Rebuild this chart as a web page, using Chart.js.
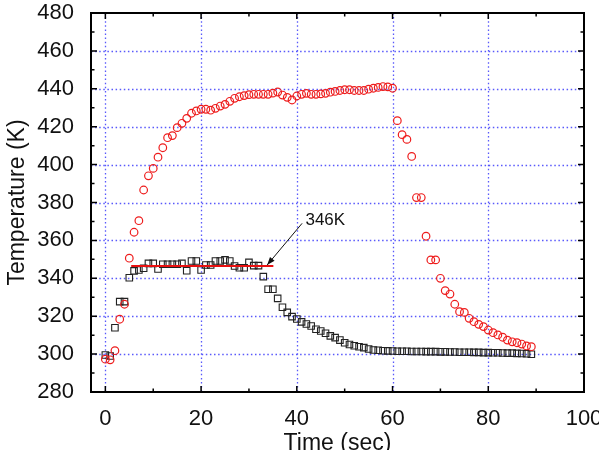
<!DOCTYPE html>
<html><head><meta charset="utf-8">
<script src="https://cdn.jsdelivr.net/npm/chart.js@4.4.0/dist/chart.umd.min.js"></script>
<style>html,body{margin:0;padding:0;background:#fff}#wrap{width:599px;height:450px;position:relative}</style>
</head><body><div id="wrap"><canvas id="c" width="599" height="450"></canvas></div>
<script>
// ---- data ----
const redTime = [0,1,2,3,4,5,6,7,8,9,10,11,12,13,14,15,16,17,18,19,20,21,22,23,24,25,26,27,28,29,30,31,32,33,34,35,36,37,38,39,40,41,42,43,44,45,46,47,48,49,50,51,52,53,54,55,56,57,58,59,60,61,62,63,64,65,66,67,68,69,70,71,72,73,74,75,76,77,78,79,80,81,82,83,84,85,86,87,88,89];
const redTemp = [297.3,297.0,301.8,318.4,326.3,350.6,364.3,370.4,386.6,394.1,
398.0,403.9,408.9,414.2,415.3,419.5,421.8,424.4,427.1,428.3,
429.2,429.2,428.7,429.7,430.9,431.8,433.4,435.0,435.8,436.4,
436.9,437.1,437.1,437.1,437.1,437.7,438.3,436.7,435.5,434.1,
436.2,437.1,437.6,437.1,437.1,437.3,437.6,438.2,438.6,439.1,
439.5,439.5,439.1,439.1,439.1,439.8,440.3,440.7,441.2,441.0,
440.3,423.2,415.8,413.3,404.3,382.6,382.6,362.2,349.7,349.7,
340.0,333.5,331.7,326.3,322.4,322.0,318.9,317.1,315.7,314.5,
312.7,311.3,310.1,308.9,307.4,306.5,306.0,305.3,304.3,303.9];
const blackTime = [0,1,2,3,4,5,6,7,8,9,10,11,12,13,14,15,16,17,18,19,20,21,22,23,24,25,26,27,28,29,30,31,32,33,34,35,36,37,38,39,40,41,42,43,44,45,46,47,48,49,50,51,52,53,54,55,56,57,58,59,60,61,62,63,64,65,66,67,68,69,70,71,72,73,74,75,76,77,78,79,80,81,82,83,84,85,86,87,88,89];
const blackTemp = [299.5,299.0,313.9,327.7,327.7,340.3,343.9,344.4,345.3,347.9,
347.9,344.9,347.4,347.4,347.4,347.4,347.9,344.0,349.1,349.1,
344.4,347.0,347.0,349.1,349.1,349.7,349.1,346.5,345.6,345.6,
348.4,346.7,346.7,340.9,334.2,334.2,329.4,324.7,322.0,319.8,
318.5,317.0,315.9,314.8,313.1,312.2,311.0,309.6,308.7,307.4,
306.0,305.1,304.4,303.9,303.4,302.7,302.2,302.0,301.8,301.7,
301.6,301.5,301.5,301.5,301.4,301.4,301.4,301.3,301.3,301.3,
301.2,301.2,301.1,301.1,301.0,301.0,301.0,300.9,300.9,300.8,
300.8,300.7,300.7,300.6,300.5,300.5,300.4,300.3,300.2,299.9];
const fitTime = [5.4, 35.1];
const fitTemp = [346.5, 346.5];
const noteText = "346K";
const noteAt = [41.8, 370.8];       // time, temperature of label
const arrowFrom = [41.1, 369.0];
const arrowTo = [33.8, 347.0];
const xMajor = [0,20,40,60,80,100];
const xMinor = [10,30,50,70,90];
const yMajor = [280,300,320,340,360,380,400,420,440,460,480];
const yMinor = [290,310,330,350,370,390,410,430,450,470];
const xTitle = "Time (sec)";
const yTitle = "Temperature (K)";

const toXY = (ts, vs) => ts.map((t, i) => ({x: t, y: vs[i]}));
const FONT = "'Liberation Sans', Arial, sans-serif";

const decor = {
  id: 'decor',
  beforeDatasetsDraw(chart) {
    const {ctx, chartArea: a, scales: {x, y}} = chart;
    ctx.save();
    ctx.strokeStyle = 'rgba(60,60,250,0.85)';
    ctx.lineWidth = 1.3;
    ctx.setLineDash([1.5, 2.6]);
    xMajor.forEach(v => {
      const px = Math.round(x.getPixelForValue(v)) + 0.5;
      if (px > a.left + 2 && px < a.right - 2) {
        ctx.beginPath(); ctx.moveTo(px, a.top); ctx.lineTo(px, a.bottom); ctx.stroke();
      }
    });
    yMajor.forEach(v => {
      const py = Math.round(y.getPixelForValue(v)) + 0.5;
      if (py > a.top + 2 && py < a.bottom - 2) {
        ctx.beginPath(); ctx.moveTo(a.left, py); ctx.lineTo(a.right, py); ctx.stroke();
      }
    });
    ctx.restore();
  },
  afterDatasetsDraw(chart) {
    const {ctx, chartArea: a, scales: {x, y}} = chart;
    ctx.save();
    ctx.strokeStyle = '#000';
    ctx.lineWidth = 1.5;
    const tick = (vals, len) => {
      vals.forEach(v => {
        const px = x.getPixelForValue(v);
        ctx.beginPath(); ctx.moveTo(px, a.bottom); ctx.lineTo(px, a.bottom - len);
        ctx.moveTo(px, a.top); ctx.lineTo(px, a.top + len); ctx.stroke();
      });
    };
    tick(xMajor, 6); tick(xMinor, 3.5);
    const tickY = (vals, len) => {
      vals.forEach(v => {
        const py = y.getPixelForValue(v);
        ctx.beginPath(); ctx.moveTo(a.left, py); ctx.lineTo(a.left + len, py);
        ctx.moveTo(a.right, py); ctx.lineTo(a.right - len, py); ctx.stroke();
      });
    };
    tickY(yMajor, 6); tickY(yMinor, 3.5);
    ctx.lineWidth = 2;
    ctx.strokeRect(a.left, a.top, a.right - a.left, a.bottom - a.top);

    // annotation arrow
    const x0 = x.getPixelForValue(arrowFrom[0]), y0 = y.getPixelForValue(arrowFrom[1]);
    const x1 = x.getPixelForValue(arrowTo[0]), y1 = y.getPixelForValue(arrowTo[1]);
    ctx.lineWidth = 1;
    ctx.strokeStyle = '#111';
    ctx.beginPath(); ctx.moveTo(x0, y0); ctx.lineTo(x1, y1); ctx.stroke();
    const ang = Math.atan2(y1 - y0, x1 - x0), L = 8, W = 3;
    ctx.fillStyle = '#111';
    ctx.beginPath();
    ctx.moveTo(x1, y1);
    ctx.lineTo(x1 - L * Math.cos(ang) + W * Math.sin(ang), y1 - L * Math.sin(ang) - W * Math.cos(ang));
    ctx.lineTo(x1 - L * Math.cos(ang) - W * Math.sin(ang), y1 - L * Math.sin(ang) + W * Math.cos(ang));
    ctx.closePath(); ctx.fill();
    ctx.font = '17px ' + FONT;
    ctx.textAlign = 'left'; ctx.textBaseline = 'middle';
    ctx.fillStyle = '#111';
    ctx.fillText(noteText, x.getPixelForValue(noteAt[0]), y.getPixelForValue(noteAt[1]));
    ctx.restore();
  }
};

new Chart(document.getElementById('c'), {
  type: 'scatter',
  data: {
    datasets: [
      {data: toXY(fitTime, fitTemp), type: 'line', borderColor: '#e81010', borderWidth: 2,
       pointRadius: 0, showLine: true, order: 0},
      {data: toXY(redTime, redTemp), pointStyle: 'circle', pointRadius: 3.8,
       borderColor: '#ee1c1c', backgroundColor: 'rgba(0,0,0,0)', pointBorderWidth: 1.2, order: 1},
      {data: toXY(blackTime, blackTemp), pointStyle: 'rect', pointRadius: 4.6,
       borderColor: '#222', backgroundColor: 'rgba(0,0,0,0)', pointBorderWidth: 1.1, order: 2}
    ]
  },
  options: {
    responsive: false, animation: false, devicePixelRatio: 1,
    layout: {padding: 0},
    plugins: {legend: {display: false}, tooltip: {enabled: false}},
    scales: {
      x: {
        type: 'linear', min: -3, max: 100,
        afterBuildTicks: s => { s.ticks = xMajor.map(v => ({value: v})); },
        afterFit: s => { s.height = 58; s.paddingLeft = 0; s.paddingRight = 15; },
        grid: {display: false}, border: {display: false},
        ticks: {font: {family: FONT, size: 22}, color: '#111', padding: 6, maxRotation: 0, autoSkip: false},
        title: {display: true, text: xTitle, font: {family: FONT, size: 23}, color: '#111', padding: {top: 0, bottom: -7}}
      },
      y: {
        type: 'linear', min: 280, max: 480,
        afterBuildTicks: s => { s.ticks = yMajor.map(v => ({value: v})); },
        afterFit: s => { s.width = 91; s.paddingTop = 13; s.paddingBottom = 0; },
        grid: {display: false}, border: {display: false},
        ticks: {font: {family: FONT, size: 22}, color: '#111', padding: 9, autoSkip: false},
        title: {display: true, text: yTitle, font: {family: FONT, size: 23}, color: '#111', padding: {top: 4, bottom: 0}}
      }
    }
  },
  plugins: [decor]
});
</script></body></html>
